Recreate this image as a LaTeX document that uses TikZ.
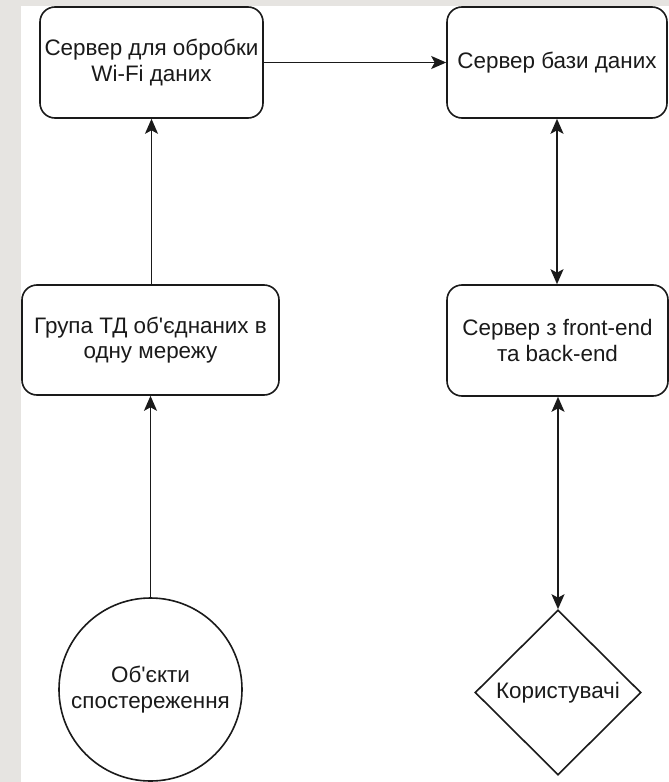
\documentclass[tikz,border=0pt]{standalone}
\usepackage{fontspec}
\setmainfont{Liberation Sans}[Ligatures=TeXOff]
\usetikzlibrary{arrows.meta,shapes.geometric}
\definecolor{pagegrey}{HTML}{E6E4E1}
\definecolor{ink}{HTML}{1A1A1A}
\tikzset{
  box/.style={draw=ink, line width=1.6bp, rounded corners=15bp, fill=white, inner sep=0pt,
    align=center, text=ink, font=\fontsize{22.5}{25.5}\selectfont},
  roundnode/.style={draw=ink, line width=1.6bp, circle, fill=white, inner sep=0pt,
    align=center, text=ink, font=\fontsize{22.5}{25.5}\selectfont, minimum size=183bp},
  rhombus/.style={draw=ink, line width=1.6bp, diamond, aspect=1, fill=white, inner sep=0pt,
    align=center, text=ink, font=\fontsize{22.5}{25.5}\selectfont, minimum width=166bp, minimum height=165bp},
  tip/.tip={Stealth[length=15bp,width=13bp,inset=3.5bp]},
  link/.style={draw=ink, line width=1.8bp, -tip},
  dlink/.style={draw=ink, line width=1.8bp, tip-tip}
}
\begin{document}
\begin{tikzpicture}[x=1bp,y=-1bp]
\useasboundingbox (0,0) rectangle (669,782);
\fill[pagegrey] (0,0) rectangle (669,782);
\fill[white] (21,6) rectangle (669,782);

\node[box, minimum width=223bp, minimum height=111bp] (srv) at (151.5,62.5) {Сервер для обробки\\Wi-Fi даних};
\node[box, minimum width=220bp, minimum height=111bp] (db) at (557,62.5) {Сервер бази даних};
\node[box, minimum width=257bp, minimum height=110bp] (grp) at (150.5,340) {Група ТД об'єднаних в\\одну мережу};
\node[box, minimum width=221bp, minimum height=111bp] (web) at (557.5,340.5) {Сервер з front-end\\та back-end};
\node[roundnode] (obj) at (150.5,689.5) {Об'єкти\\спостереження};
\node[rhombus] (usr) at (558,692.5) {Користувачі};

\draw[link] (srv.east) -- (db.west);
\draw[link] (grp.north -| srv.south) -- (srv.south);
\draw[link] (obj.north) -- (obj.north |- grp.south);
\draw[dlink] (db.south) -- (db.south |- web.north);
\draw[dlink] (web.south -| usr.north) -- (usr.north);
\end{tikzpicture}
\end{document}
